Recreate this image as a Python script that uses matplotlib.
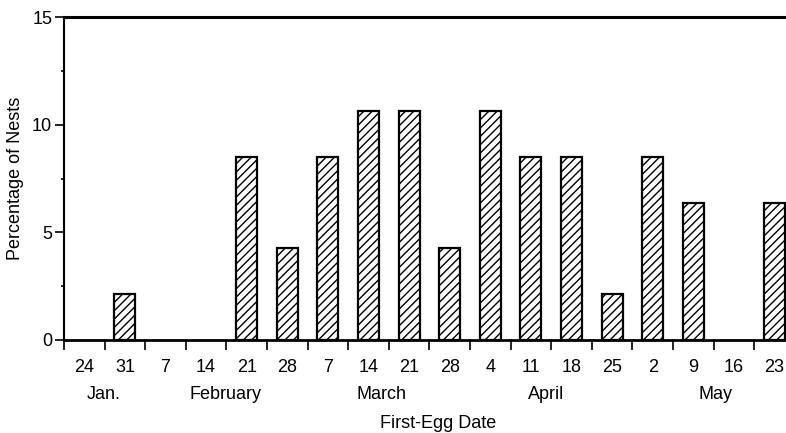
import matplotlib
matplotlib.use("Agg")
import matplotlib.pyplot as plt
from matplotlib.ticker import FixedLocator, MultipleLocator

# Weekly first-egg dates (day of month) and share of nests, n = 47
day_labels = ["24", "31", "7", "14", "21", "28", "7", "14", "21", "28",
              "4", "11", "18", "25", "2", "9", "16", "23"]
nest_counts = [0, 1, 0, 0, 4, 2, 4, 5, 5, 2, 5, 4, 4, 1, 4, 3, 0, 3]
total_nests = 47
percent_nests = [100.0 * c / total_nests for c in nest_counts]

months = ["Jan.", "February", "March", "April", "May"]
month_pos = [0.48, 3.47, 7.31, 11.37, 15.55]

plt.rcParams["font.family"] = ["Liberation Sans", "DejaVu Sans"]
plt.rcParams["hatch.linewidth"] = 1.0

W, H = 786, 433
fig = plt.figure(figsize=(W / 100, H / 100), dpi=100)

x_left_px, x_right_px = 64, 794.8
y_top_px, y_bot_px = 17, 340
ax = fig.add_axes([x_left_px / W, (H - y_bot_px) / H,
                   (x_right_px - x_left_px) / W, (y_bot_px - y_top_px) / H])

x = list(range(len(day_labels)))
edge_widths = [1.6 if v > 0 else 0.0 for v in percent_nests]
ax.bar(x, percent_nests, width=0.52, color="white", edgecolor="black",
       linewidth=edge_widths, hatch="////", zorder=2)

ax.set_xlim(-0.5, len(day_labels) - 0.5)
ax.set_ylim(0, 15)

# y axis: labelled majors every 5, short minors in between
ax.yaxis.set_major_locator(MultipleLocator(5))
ax.yaxis.set_minor_locator(MultipleLocator(2.5))
ax.tick_params(axis="y", which="major", length=6.5, width=1.2,
               labelsize=13, pad=2, direction="out")
ax.tick_params(axis="y", which="minor", length=2.5, width=1.2, direction="out")

# x axis: day labels under bars, tick marks at week boundaries
ax.set_xticks(x)
ax.set_xticklabels(day_labels)
ax.tick_params(axis="x", which="major", length=0, labelsize=13, pad=13.5)
ax.xaxis.set_minor_locator(FixedLocator([i - 0.5 for i in range(len(day_labels) + 1)]))
ax.tick_params(axis="x", which="minor", length=7, width=1.2, direction="out")

ax.spines["right"].set_visible(False)
ax.spines["top"].set_linewidth(2.2)
ax.spines["bottom"].set_linewidth(2.0)
ax.spines["left"].set_linewidth(1.5)

for name, pos in zip(months, month_pos):
    ax.text(pos, -0.168, name, transform=ax.get_xaxis_transform(),
            ha="center", va="center", fontsize=13)

ax.set_ylabel("Percentage of Nests", fontsize=13, labelpad=6)
fig.text(438 / W, 1 - 424 / H, "First-Egg Date", ha="center", va="center",
         fontsize=13)

fig.savefig("out.png", dpi=100)
